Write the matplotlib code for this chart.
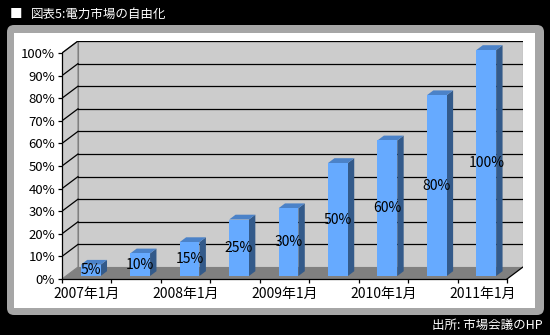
import matplotlib
matplotlib.use("Agg")
import matplotlib.pyplot as plt
from matplotlib.patches import Polygon, Rectangle, FancyBboxPatch

plt.rcParams['font.family'] = ['Noto Sans CJK JP', 'DejaVu Sans']

# data
categories = ['2007年1月', '2007年7月', '2008年1月', '2008年7月', '2009年1月',
              '2009年7月', '2010年1月', '2010年7月', '2011年1月']
values = [5, 10, 15, 25, 30, 50, 60, 80, 100]
ytick_values = list(range(0, 101, 10))
title = '図表5:電力市場の自由化'
source = '出所: 市場会議のHP'

# pseudo 3d geometry (data units)
DX, DY = 0.3236, 5.31        # full depth offset
D0, D1 = 0.25, 0.65          # bar depth range (fraction of depth)
BAR_W = 0.4
FRONT, TOP, SIDE = '#66aaff', '#4b82c8', '#335a8a'
WALL, FLOOR, EDGE = '#cccccc', '#808080', '#808080'

fig = plt.figure(figsize=(5.5, 3.35), dpi=100, facecolor='black')

# background panel in pixel coords
bg = fig.add_axes([0, 0, 1, 1])
bg.set_xlim(0, 550)
bg.set_ylim(335, 0)
bg.axis('off')
bg.add_patch(FancyBboxPatch((7, 25), 537, 290, boxstyle='round,pad=0,rounding_size=7',
                            fc='#a6a6a6', ec='none'))
bg.add_patch(Rectangle((14, 33), 521, 275, fc='white', ec='none'))
bg.text(10, 14, '■', color='white', fontsize=9, va='center', ha='left')
bg.text(31, 14, title, color='white', fontsize=9, va='center', ha='left')
bg.text(543, 325, source, color='white', fontsize=9, va='center', ha='right')

n = len(categories)
ax = fig.add_axes([62 / 550, (335 - 279) / 335, 461 / 550, 238 / 335])
ax.set_xlim(0, n + DX)
ax.set_ylim(0, 100 + DY)
ax.patch.set_alpha(0)

# walls and floor
ax.add_patch(Rectangle((DX, DY), n, 100, fc=WALL, ec=EDGE, lw=0.8, zorder=1))
ax.add_patch(Polygon([(0, 0), (0, 100), (DX, 100 + DY), (DX, DY)], closed=True,
                     fc=WALL, ec=EDGE, lw=0.8, zorder=1))
for v in ytick_values[1:]:
    ax.plot([DX, n + DX], [v + DY, v + DY], color='black', lw=0.9, zorder=2)
    ax.plot([0, DX], [v, v + DY], color='black', lw=0.9, zorder=2)
ax.add_patch(Polygon([(0, 0), (n, 0), (n + DX, DY), (DX, DY)], closed=True,
                     fc=FLOOR, ec='none', zorder=3))
ax.plot([n, n + DX], [0, DY], color='black', lw=0.9, zorder=3)

# bars
ox, oy = D0 * DX, D0 * DY
ddx, ddy = (D1 - D0) * DX, (D1 - D0) * DY
for i, v in enumerate(values):
    x0 = i + 0.5 - BAR_W / 2 + ox
    x1 = x0 + BAR_W
    yb, yt = oy, oy + v
    ax.add_patch(Polygon([(x1, yb), (x1, yt), (x1 + ddx, yt + ddy), (x1 + ddx, yb + ddy)],
                         closed=True, fc=SIDE, ec='none', zorder=4))
    ax.add_patch(Polygon([(x0, yt), (x1, yt), (x1 + ddx, yt + ddy), (x0 + ddx, yt + ddy)],
                         closed=True, fc=TOP, ec='none', zorder=4))
    ax.add_patch(Rectangle((x0, yb), BAR_W, v, fc=FRONT, ec='none', zorder=5))
    ax.text(i + 0.5 + ox, oy + v / 2, f'{v}%', ha='center', va='center',
            fontsize=10, color='black', zorder=6)

# axes
for s in ['top', 'right']:
    ax.spines[s].set_visible(False)
ax.spines['left'].set_bounds(0, 100)
ax.spines['bottom'].set_bounds(0, n)
for s in ['left', 'bottom']:
    ax.spines[s].set_linewidth(0.9)
    ax.spines[s].set_zorder(7)
ax.set_yticks(ytick_values)
ax.set_yticklabels([f'{v}%' for v in ytick_values], fontsize=9.5)
ax.set_xticks(range(n + 1))
ax.set_xticklabels([])
ax.set_xticks([i + 0.5 for i in range(0, n, 2)], minor=True)
ax.set_xticklabels(categories[::2], minor=True, fontsize=10)
ax.tick_params(axis='both', which='major', length=3, width=0.9, direction='out')
ax.tick_params(axis='y', pad=2)
ax.tick_params(axis='x', which='minor', length=0, pad=6)

fig.savefig('out.png', dpi=100, facecolor='black')
